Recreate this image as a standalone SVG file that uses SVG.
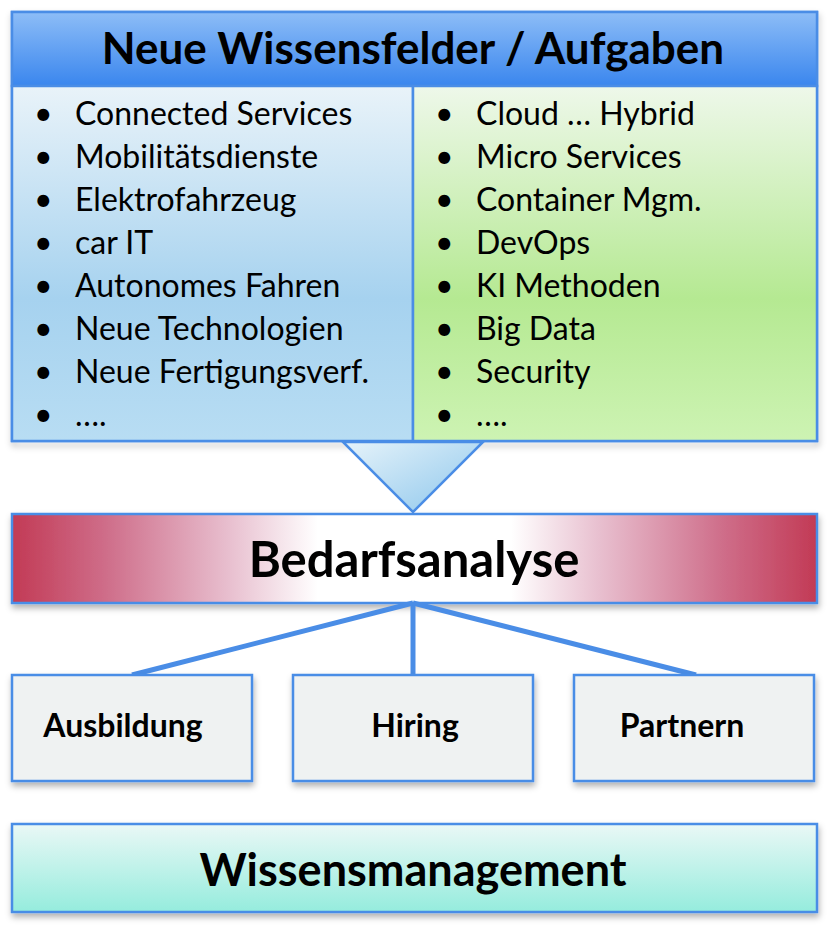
<svg xmlns="http://www.w3.org/2000/svg" width="829" height="942" viewBox="0 0 829 942">
<defs>
<linearGradient id="gHead" x1="0" y1="0" x2="0" y2="1"><stop offset="0" stop-color="#8dbdf7"/><stop offset="1" stop-color="#3a86ee"/></linearGradient>
<linearGradient id="gBlue" x1="0" y1="0" x2="0" y2="1"><stop offset="0" stop-color="#e9f3f9"/><stop offset="0.6" stop-color="#a6d2ef"/><stop offset="1" stop-color="#b8ddf3"/></linearGradient>
<linearGradient id="gGreen" x1="0" y1="0" x2="0" y2="1"><stop offset="0" stop-color="#eef8ea"/><stop offset="0.6" stop-color="#b5e992"/><stop offset="1" stop-color="#cdf3b3"/></linearGradient>
<linearGradient id="gTri" x1="0" y1="0" x2="1" y2="1"><stop offset="0" stop-color="#e6f3fa"/><stop offset="1" stop-color="#8cc6ec"/></linearGradient>
<linearGradient id="gRed" x1="0" y1="0" x2="1" y2="0"><stop offset="0" stop-color="#c23a55"/><stop offset="0.12" stop-color="#cf6f8b"/><stop offset="0.27" stop-color="#e8bfcf"/><stop offset="0.38" stop-color="#ffffff"/><stop offset="0.62" stop-color="#ffffff"/><stop offset="0.73" stop-color="#e8bfcf"/><stop offset="0.88" stop-color="#cf6f8b"/><stop offset="1" stop-color="#c23a55"/></linearGradient>
<linearGradient id="gTeal" x1="0" y1="0" x2="0" y2="1"><stop offset="0" stop-color="#eaf8f6"/><stop offset="1" stop-color="#95ecdd"/></linearGradient>
<filter id="sh" x="-5%" y="-5%" width="110%" height="120%"><feDropShadow dx="1" dy="4" stdDeviation="3" flood-color="#000" flood-opacity="0.3"/></filter>
</defs>
<style>
.bx{stroke:#4a8de6;stroke-width:2.5}
.li{font-family:Lato,"Open Sans",sans-serif;font-size:32px;fill:#000}
.t{font-family:Lato,"Open Sans",sans-serif;font-weight:bold;fill:#000;text-anchor:middle}
.cn{stroke:#4a8de6;stroke-width:5;fill:none;stroke-linecap:butt}
</style>
<g id="header">
<rect x="12" y="12" width="805" height="429" fill="none" filter="url(#sh)" class="bx"/>
<rect x="12" y="12" width="805" height="74" fill="url(#gHead)" class="bx"/>
<text class="t" x="413" y="64" font-size="44">Neue Wissensfelder / Aufgaben</text>
</g>
<g id="list-left">
<rect x="12" y="86" width="401" height="355" fill="url(#gBlue)" class="bx"/>
<g class="li">
<text x="34" y="125">•</text><text x="75" y="125">Connected Services</text>
<text x="34" y="168">•</text><text x="75" y="168">Mobilitätsdienste</text>
<text x="34" y="211">•</text><text x="75" y="211">Elektrofahrzeug</text>
<text x="34" y="254">•</text><text x="75" y="254">car IT</text>
<text x="34" y="297">•</text><text x="75" y="297">Autonomes Fahren</text>
<text x="34" y="340">•</text><text x="75" y="340">Neue Technologien</text>
<text x="34" y="383">•</text><text x="75" y="383">Neue Fertigungsverf.</text>
<text x="34" y="426">•</text><text x="75" y="426">….</text>
</g>
</g>
<g id="list-right">
<rect x="413" y="86" width="404" height="355" fill="url(#gGreen)" class="bx"/>
<g class="li">
<text x="435" y="125">•</text><text x="476" y="125">Cloud … Hybrid</text>
<text x="435" y="168">•</text><text x="476" y="168">Micro Services</text>
<text x="435" y="211">•</text><text x="476" y="211">Container Mgm.</text>
<text x="435" y="254">•</text><text x="476" y="254">DevOps</text>
<text x="435" y="297">•</text><text x="476" y="297">KI Methoden</text>
<text x="435" y="340">•</text><text x="476" y="340">Big Data</text>
<text x="435" y="383">•</text><text x="476" y="383">Security</text>
<text x="435" y="426">•</text><text x="476" y="426">….</text>
</g>
</g>
<g id="arrow">
<polygon points="343,442 483,442 413,512" fill="url(#gTri)" stroke="#4a8de6" stroke-width="2.5"/>
</g>
<g id="bedarf">
<rect x="12" y="514" width="805" height="89" fill="url(#gRed)" class="bx" filter="url(#sh)"/>
<text class="t" x="414" y="577" font-size="49">Bedarfsanalyse</text>
</g>
<g id="connectors">
<line class="cn" x1="413" y1="603" x2="132" y2="675"/>
<line class="cn" x1="413" y1="603" x2="413" y2="675"/>
<line class="cn" x1="413" y1="603" x2="696" y2="675"/>
</g>
<g id="ausbildung">
<rect x="12" y="675" width="240" height="106" fill="#eff2f2" class="bx" filter="url(#sh)"/>
<text class="t" x="123" y="737" font-size="32">Ausbildung</text>
</g>
<g id="hiring">
<rect x="293" y="675" width="240" height="106" fill="#eff2f2" class="bx" filter="url(#sh)"/>
<text class="t" x="415" y="737" font-size="32">Hiring</text>
</g>
<g id="partnern">
<rect x="574" y="675" width="240" height="106" fill="#eff2f2" class="bx" filter="url(#sh)"/>
<text class="t" x="682" y="737" font-size="32">Partnern</text>
</g>
<g id="wissen">
<rect x="12" y="824" width="805" height="88" fill="url(#gTeal)" class="bx" filter="url(#sh)"/>
<text class="t" x="413" y="886" font-size="45">Wissensmanagement</text>
</g>
</svg>
